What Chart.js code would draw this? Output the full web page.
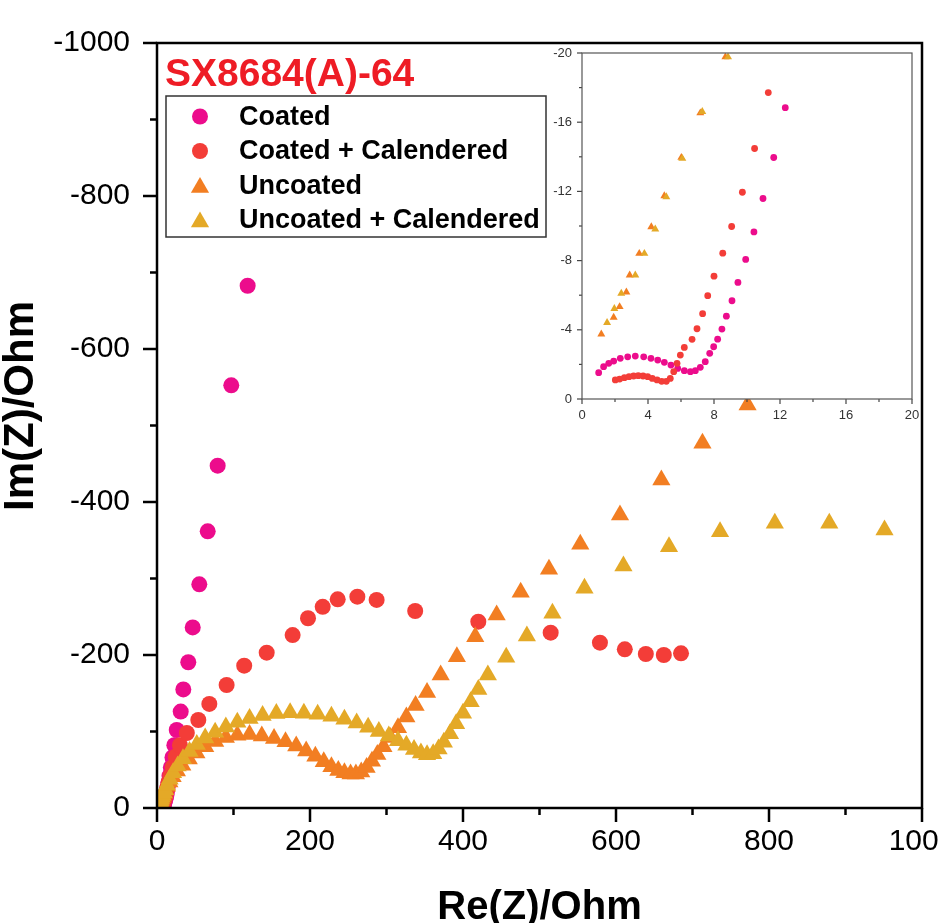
<!DOCTYPE html>
<html>
<head>
<meta charset="utf-8">
<title>Nyquist plot</title>
<script src="https://cdn.jsdelivr.net/npm/chart.js@4.4.1/dist/chart.umd.min.js"></script>
<style>
  html, body { margin: 0; padding: 0; background: #fff; overflow: hidden; }
  #wrap { position: relative; width: 939px; height: 923px; }
  #mainChart { position: absolute; left: 0; top: 0; }
  #insetChart { position: absolute; left: 530px; top: 40px; }
</style>
</head>
<body>
<div id="wrap">
  <canvas id="mainChart" width="939" height="923"></canvas>
  <canvas id="insetChart" width="400" height="400"></canvas>
</div>
<script>
const FONT = "'Liberation Sans', Arial, Helvetica, sans-serif";

const sampleName = 'SX8684(A)-64';
const xTitle = 'Re(Z)/Ohm';
const yTitle = 'Im(Z)/Ohm';

const seriesNames = ['Coated', 'Coated + Calendered', 'Uncoated', 'Uncoated + Calendered'];
const seriesColors = ['#ec0c8c', '#f33d38', '#f27e22', '#e4a927'];
const seriesShapes = ['circle', 'circle', 'triangle', 'triangle'];

// axis ranges: [min, max, label step, minor tick step]
const mainX = [0, 1000, 200, 100];
const mainY = [-1000, 0, 200, 100];
const insetX = [0, 20, 4, 2];
const insetY = [-20, 0, 4, 2];

// Coated
const coatedRe = [1.01, 1.31, 1.62, 1.92, 2.32, 2.77, 3.23, 3.74, 4.18, 4.59, 4.99, 5.39, 5.80, 6.20, 6.57,
  6.87, 7.17, 7.47, 7.74, 7.98, 8.22, 8.48, 8.75, 9.09, 9.45, 9.92, 10.42, 10.97, 11.62, 12.32,
  13.0, 13.8, 15.0, 16.3, 18.1, 20.2, 22.7, 25.8, 31.0, 34.4, 40.9, 46.7, 55.3, 66.3, 79.3, 97.1, 118.5];
const coatedIm = [-1.52, -1.87, -2.06, -2.19, -2.35, -2.44, -2.48, -2.44, -2.35, -2.25, -2.12, -1.96, -1.77, -1.64, -1.58,
  -1.64, -1.83, -2.16, -2.64, -3.02, -3.46, -4.04, -4.79, -5.68, -6.74, -8.07, -9.66, -11.59, -13.96, -16.84,
  -21, -26.5, -33.5, -42, -53, -66, -82, -102, -126, -155, -190.5, -236, -292.4, -361.7, -447.5, -552.5, -682.7];

// Coated + Calendered
const calRe = [2.02, 2.28, 2.57, 2.85, 3.13, 3.41, 3.70, 3.98, 4.26, 4.55, 4.83, 5.11, 5.35, 5.56, 5.76,
  5.96, 6.20, 6.67, 6.97, 7.31, 7.62, 8.0, 8.53, 9.07, 9.72, 10.46, 11.29,
  12.3, 13.5, 15.2, 17.5, 20.5, 24.5, 30, 39, 54, 68.4, 91, 114, 143.4, 177.3, 197.4, 216.6, 236.2,
  261.9, 287.1, 337.5, 420, 514.6, 579, 611.5, 639, 662.5, 685];
const calIm = [-1.10, -1.15, -1.23, -1.29, -1.33, -1.35, -1.33, -1.29, -1.19, -1.10, -1.02, -1.02, -1.19, -1.58, -2.06,
  -2.54, -2.98, -3.45, -4.06, -4.93, -5.97, -7.1, -8.43, -9.97, -11.95, -14.48, -17.71,
  -21.8, -27, -33.7, -42.3, -53.3, -67.3, -82, -98, -115, -136, -160.8, -186, -203, -226, -248, -263, -272.8,
  -276.3, -272, -257.5, -243.6, -229.2, -216.1, -207.4, -201.3, -200, -202.2];

// Uncoated
const uncRe = [1.17, 1.92, 2.28, 2.69, 2.89, 3.47, 4.20, 4.99, 6.02, 7.17, 8.69,
  10.6, 13, 16.2, 20.4, 26, 33, 41.5, 51.5, 63, 76, 90, 105, 121, 137, 153, 168, 182, 195, 207, 218,
  228, 237, 245, 253, 260, 267, 274, 281, 288, 296, 305, 315, 326, 338, 353,
  370.8, 392, 416, 444, 475.4, 512.4, 553.3, 605.2, 659.3, 713, 772];
const uncIm = [-3.75, -4.72, -5.33, -6.18, -7.16, -8.41, -9.95, -11.74, -13.96, -16.53, -19.77,
  -23.6, -28.3, -34, -41, -48.5, -56, -64, -72, -80, -87, -92, -95, -96, -94, -91, -86.5, -81, -74.5, -67.5, -60.5,
  -54, -49, -46, -44.5, -44.5, -47, -53, -61, -70, -80, -92, -105, -119, -134, -151,
  -173.9, -197.8, -224, -252.3, -281.9, -312, -344.7, -383, -428.8, -476.7, -526.8];

// Uncoated + Calendered
const uncCalRe = [1.52, 1.96, 2.38, 3.23, 3.78, 4.44, 5.11, 6.08, 7.29, 8.85,
  10.5, 13, 16.5, 21, 27, 34, 42.5, 52, 63, 76, 90, 105, 121, 138, 156, 174, 192, 210, 228, 245,
  261, 276, 290, 303, 315, 326, 336, 345, 353, 361, 368, 375, 383, 391, 400, 410, 420,
  432.5, 456.5, 483.5, 516.9, 558.8, 609.7, 669.3, 736, 807.6, 878.8, 951];
const uncCalIm = [-4.41, -5.22, -6.10, -7.16, -8.41, -9.82, -11.68, -13.90, -16.61, -19.77,
  -24, -30, -37.5, -46, -55, -64.5, -74, -83, -91.5, -99, -106, -112, -117, -121, -123.5, -124.5, -124, -122.5, -120, -116,
  -111, -105.5, -100, -94, -88, -82, -76.5, -72, -69.5, -71, -77, -86, -97, -110, -124, -139, -155,
  -173.9, -197, -224.8, -254.5, -287.2, -316.3, -341.6, -361.2, -372.2, -372.2, -363.4];

const seriesData = [[coatedRe, coatedIm], [calRe, calIm], [uncRe, uncIm], [uncCalRe, uncCalIm]];

function toPoints(re, im) {
  return re.map((x, i) => ({ x: x, y: im[i] }));
}

function buildDatasets(circleR, triR) {
  return seriesData.map(([re, im], i) => {
    const r = seriesShapes[i] === 'triangle' ? triR : circleR;
    return {
      label: seriesNames[i],
      data: toPoints(re, im),
      backgroundColor: seriesColors[i],
      borderColor: seriesColors[i],
      borderWidth: 0,
      pointStyle: seriesShapes[i],
      pointRadius: r,
      pointHoverRadius: r,
      order: seriesData.length - i  // later series painted on top
    };
  });
}

// frame box plus outward major/minor tick marks
const axisTicks = {
  id: 'axisTicks',
  afterDraw(chart, args, o) {
    const { ctx, chartArea: a, scales: { x, y } } = chart;
    ctx.save();
    ctx.strokeStyle = o.color;
    ctx.lineWidth = o.lineWidth;
    const every = Math.round(o.xr[2] / o.xr[3]);
    const nx = Math.round((o.xr[1] - o.xr[0]) / o.xr[3]);
    for (let i = 0; i <= nx; i++) {
      const px = x.getPixelForValue(o.xr[0] + i * o.xr[3]);
      const len = i % every === 0 ? o.major : o.minor;
      ctx.beginPath();
      ctx.moveTo(px, a.bottom);
      ctx.lineTo(px, a.bottom + len);
      ctx.stroke();
    }
    const ny = Math.round((o.yr[1] - o.yr[0]) / o.yr[3]);
    for (let i = 0; i <= ny; i++) {
      const py = y.getPixelForValue(o.yr[1] - i * o.yr[3]);
      const len = i % every === 0 ? o.major : o.minor;
      ctx.beginPath();
      ctx.moveTo(a.left, py);
      ctx.lineTo(a.left - len, py);
      ctx.stroke();
    }
    ctx.strokeStyle = o.frameColor || o.color;
    ctx.lineWidth = o.frameWidth || o.lineWidth;
    ctx.strokeRect(a.left, a.top, a.right - a.left, a.bottom - a.top);
    ctx.restore();
  }
};

// sample name, legend box and axis titles
const mainLabels = {
  id: 'mainLabels',
  afterDraw(chart) {
    const { ctx, chartArea: a } = chart;
    ctx.save();

    ctx.fillStyle = '#ee1c25';
    ctx.font = 'bold 39px ' + FONT;
    ctx.textAlign = 'left';
    ctx.textBaseline = 'alphabetic';
    ctx.fillText(sampleName, 165, 86);

    const box = { x: 166, y: 96, w: 380, h: 141 };
    ctx.fillStyle = '#fff';
    ctx.fillRect(box.x, box.y, box.w, box.h);
    ctx.strokeStyle = '#333';
    ctx.lineWidth = 1.5;
    ctx.strokeRect(box.x, box.y, box.w, box.h);

    ctx.font = 'bold 27px ' + FONT;
    ctx.textBaseline = 'middle';
    chart.data.datasets.forEach((ds, i) => {
      const rowY = box.y + 20.5 + i * 34.5;
      ctx.fillStyle = ds.backgroundColor;
      Chart.helpers.drawPoint(ctx, {
        pointStyle: ds.pointStyle,
        radius: ds.pointStyle === 'triangle' ? 10.5 : 8,
        borderWidth: 0,
        rotation: 0
      }, 200, rowY + (ds.pointStyle === 'triangle' ? 2 : 0));
      ctx.fillStyle = '#000';
      ctx.fillText(ds.label, 239, rowY + 1);
    });

    ctx.fillStyle = '#000';
    ctx.font = 'bold 40px ' + FONT;
    ctx.textAlign = 'center';
    ctx.textBaseline = 'alphabetic';
    ctx.fillText(xTitle, (a.left + a.right) / 2, 919);

    ctx.translate(33, 406);
    ctx.rotate(-Math.PI / 2);
    ctx.font = 'bold 42px ' + FONT;
    ctx.fillText(yTitle, 0, 0);
    ctx.restore();
  }
};

// white plot area so the inset hides the main points behind it
const insetBg = {
  id: 'insetBg',
  beforeDraw(chart) {
    const { ctx, chartArea: a } = chart;
    ctx.save();
    ctx.fillStyle = '#fff';
    ctx.fillRect(a.left, a.top, a.right - a.left, a.bottom - a.top);
    ctx.restore();
  }
};

function axis(range, opts) {
  return {
    type: 'linear',
    min: range[0],
    max: range[1],
    reverse: !!opts.reverse,
    grid: { display: false, drawTicks: false },
    border: { display: false },
    ticks: {
      stepSize: range[2],
      padding: opts.padding,
      color: opts.color,
      maxRotation: 0,
      autoSkip: false,
      font: { family: FONT, size: opts.size },
      callback: v => String(v)
    },
    afterFit: s => {
      if (opts.width) s.width = opts.width;
      if (opts.height) s.height = opts.height;
      s.paddingLeft = s.paddingRight = s.paddingTop = s.paddingBottom = 0;
    }
  };
}

new Chart(document.getElementById('mainChart'), {
  type: 'scatter',
  data: { datasets: buildDatasets(8, 10.5) },
  options: {
    responsive: false,
    animation: false,
    devicePixelRatio: 1,
    layout: { padding: { top: 43, right: 17, left: 0, bottom: 0 } },
    plugins: {
      legend: { display: false },
      tooltip: { enabled: false },
      axisTicks: { xr: mainX, yr: mainY, major: 14, minor: 7, color: '#000', lineWidth: 2.5 }
    },
    scales: {
      x: axis(mainX, { padding: 16, color: '#000', size: 30, height: 115 }),
      y: axis(mainY, { padding: 27, color: '#000', size: 30, width: 157, reverse: true })
    }
  },
  plugins: [axisTicks, mainLabels]
});

new Chart(document.getElementById('insetChart'), {
  type: 'scatter',
  data: { datasets: buildDatasets(3.4, 4.6) },
  options: {
    responsive: false,
    animation: false,
    devicePixelRatio: 1,
    layout: { padding: { top: 13, right: 18, left: 0, bottom: 0 } },
    plugins: {
      legend: { display: false },
      tooltip: { enabled: false },
      axisTicks: { xr: insetX, yr: insetY, major: 5, minor: 3, color: '#444', lineWidth: 1.2, frameColor: '#555', frameWidth: 1.2 }
    },
    scales: {
      x: axis(insetX, { padding: 9, color: '#333', size: 13, height: 41 }),
      y: axis(insetY, { padding: 10, color: '#333', size: 13, width: 52, reverse: true })
    }
  },
  plugins: [insetBg, axisTicks]
});
</script>
</body>
</html>
